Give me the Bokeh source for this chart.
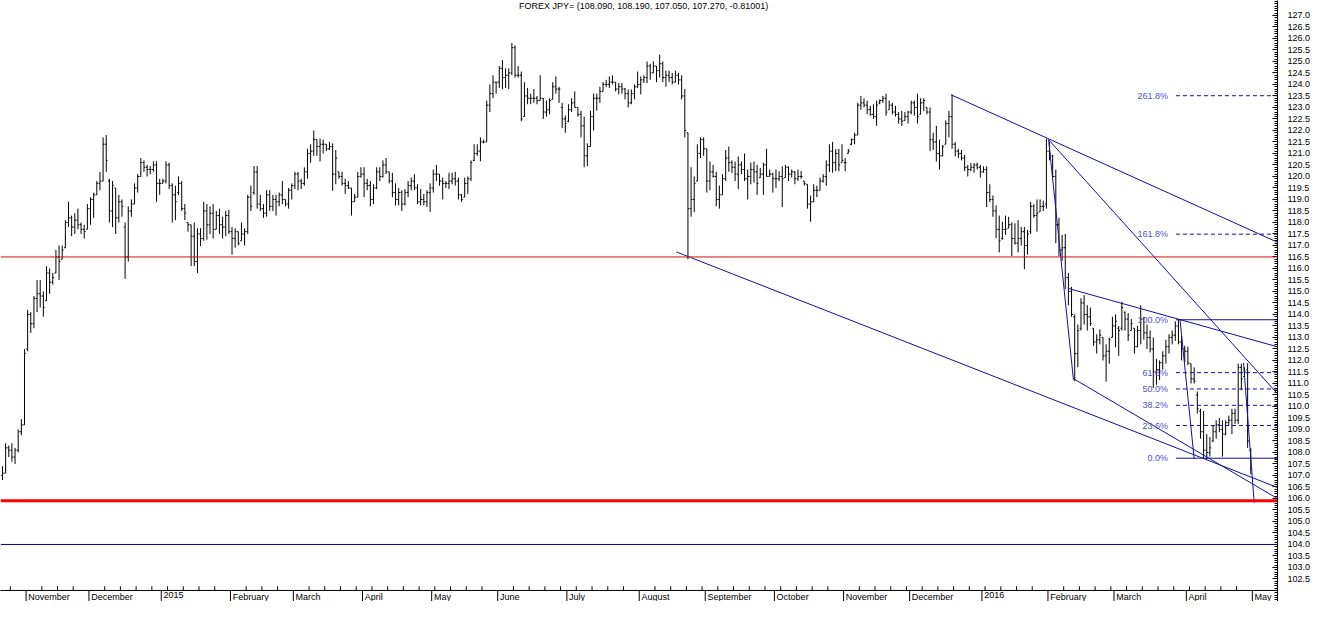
from bokeh.plotting import figure
from bokeh.models import ColumnDataSource, FixedTicker, PrintfTickFormatter, Range1d, Span
from bokeh.embed import file_html
from bokeh.resources import INLINE
from bokeh.core.properties import value

# ---------------- data: daily USD/JPY bars (trading-day index 0 = 22 Oct 2014) -------------
highs = [107.4, 108.4, 108.3, 108.4, 108.2, 109.0, 109.45, 112.5,
    114.2, 114.1, 114.8, 115.5, 115.5, 115.0, 116.1, 116.0, 115.8, 116.8, 117.0, 117.0, 118.1, 118.9, 118.3, 118.4, 118.6, 118.0, 117.9, 118.8,
    119.1, 119.3, 119.8, 120.2, 121.7, 121.8, 119.9, 119.8, 119.5, 119.2, 119.0, 118.0, 118.7, 119.0, 119.7, 120.1, 120.8, 120.7, 120.5, 120.45, 120.66, 120.66, 119.9,
    119.9, 120.66, 120.6, 119.7, 119.6, 120.0, 119.8, 118.8, 118.0, 117.9, 118.0, 117.75, 117.75, 118.9, 118.8, 118.7, 118.8, 118.5, 118.6, 118.25, 118.5, 118.55,
    117.8, 117.75, 117.6, 118.0, 117.75, 119.2, 119.6, 120.45, 120.45, 119.2, 118.8, 119.4, 119.4, 119.2, 119.2, 119.3, 119.8, 119.0, 119.5, 119.7,
    120.2, 120.2, 119.9, 120.4, 121.2, 121.4, 122.0, 121.6, 121.65, 121.6, 121.4, 121.5, 121.44, 121.15, 120.2, 120.2, 119.9, 119.8, 119.5, 119.24, 120.2, 120.4,
    120.4, 119.9, 119.8, 119.66, 120.4, 120.4, 120.7, 120.8, 120.2, 120.16, 119.7, 119.5, 119.4, 119.45, 119.8, 119.95, 120.1, 119.66, 119.45, 119.24, 119.4, 119.7,
    120.3, 120.5, 120.1, 119.95, 119.8, 120.16, 120.16, 120.2, 119.95, 119.24, 119.95, 120.0, 120.7, 121.4, 121.4, 121.7, 121.6, 123.3, 124.0, 124.4, 124.1,
    124.8, 125.06, 124.7, 124.7, 125.8, 125.7, 124.8, 124.56, 124.1, 123.85, 123.6, 123.8, 123.5, 124.4, 123.4, 123.3, 123.4, 124.1, 124.35, 123.9, 123.2, 122.65,
    123.14, 123.4, 123.7, 123.0, 122.86, 122.6, 121.44, 122.86, 123.6, 123.6, 123.9, 124.1, 124.2, 124.35, 124.4, 124.1, 124.06, 124.06, 123.85, 123.78, 123.78, 124.0, 124.56,
    124.35, 124.4, 125.0, 124.9, 125.0, 124.8, 125.3, 125.0, 124.6, 124.6, 124.5, 124.6, 124.5, 124.4, 123.8, 121.9, 120.4, 120.0, 121.4, 121.7, 121.7,
    121.2, 120.65, 120.5, 120.2, 119.6, 120.1, 121.15, 121.3, 120.7, 120.65, 120.87, 120.65, 121.0, 120.3, 120.6, 120.65, 120.5, 120.37, 120.6, 121.2, 120.3, 120.16,
    120.3, 120.23, 120.44, 120.5, 120.44, 120.3, 120.23, 120.3, 120.23, 119.8, 119.66, 119.17, 119.66, 119.6, 119.95, 120.1, 120.7, 121.4, 121.5, 121.2, 121.2, 121.4,
    120.8, 121.2, 121.65, 121.9, 123.2, 123.5, 123.4, 123.3, 123.07, 123.14, 123.3, 123.35, 123.5, 123.6, 123.3, 123.2, 123.07, 122.8, 122.85, 122.8, 122.85,
    123.3, 123.3, 123.6, 123.4, 123.4, 123.0, 123.0, 121.9, 122.2, 121.6, 121.36, 122.43, 122.85, 123.56, 121.5, 121.2, 121.15, 120.94, 120.5, 120.58, 120.58, 120.6, 120.5,
    120.44, 120.44, 119.66, 119.17, 118.74, 118.3, 118.03, 118.3, 118.25, 118.0, 117.96, 118.1, 117.8, 117.8, 117.68, 118.9, 118.8, 119.0, 119.0, 118.95, 121.65,
    121.5, 120.94, 120.3, 118.2, 117.46, 117.5, 115.8, 115.2, 114.0, 113.56, 114.7, 114.84, 114.4, 114.3, 113.4, 113.14, 113.35, 113.0, 112.7, 113.0, 113.9,
    114.0, 113.5, 114.55, 114.13, 114.06, 113.8, 113.4, 113.5, 114.4, 113.9, 113.56, 113.3, 113.0, 112.07, 112.0, 112.4, 112.9, 113.14, 113.3, 113.7, 113.8, 113.07, 112.64,
    112.6, 111.86, 111.7, 110.65, 109.9, 109.8, 108.8, 108.67, 109.17, 109.4, 109.5, 109.4, 109.4, 109.6, 109.9, 109.9, 111.86, 111.86, 111.7, 111.88, 108.19]
lows = [106.8, 107.1, 107.8, 107.6, 107.5, 108.0, 108.75, 109.2,
    112.4, 113.2, 113.4, 114.1, 114.3, 113.9, 114.6, 114.9, 115.3, 115.8, 115.5, 116.4, 116.9, 117.8, 117.4, 117.5, 117.7, 117.5, 117.3, 117.7,
    117.9, 118.2, 119.2, 119.4, 119.8, 120.2, 118.0, 117.8, 117.5, 118.0, 118.25, 115.55, 116.3, 118.25, 118.8, 119.3, 120.0, 120.2, 120.0, 120.1, 120.2, 118.9, 119.2,
    119.7, 119.7, 119.45, 118.0, 118.1, 119.2, 118.5, 118.1, 117.6, 116.1, 116.1, 115.8, 116.97, 117.2, 117.25, 117.5, 117.3, 117.7, 117.5, 117.3, 117.4, 117.5,
    116.6, 116.9, 117.0, 117.2, 117.0, 117.5, 118.5, 119.2, 118.6, 118.5, 118.2, 118.25, 118.5, 118.5, 118.3, 118.7, 118.8, 118.7, 118.6, 119.0,
    119.45, 119.4, 119.45, 119.6, 119.9, 120.6, 120.9, 120.9, 120.66, 121.0, 121.1, 121.15, 119.38, 119.66, 119.9, 119.6, 119.24, 119.45, 118.3, 118.9, 119.1, 119.95,
    119.1, 119.4, 118.7, 118.8, 119.45, 119.8, 119.95, 120.1, 119.7, 119.1, 118.74, 118.74, 118.5, 118.74, 119.1, 119.4, 119.4, 118.8, 118.74, 118.74, 118.67, 118.46,
    119.3, 119.8, 119.6, 119.0, 119.5, 119.45, 119.66, 119.6, 119.0, 118.9, 119.1, 119.24, 119.8, 120.66, 120.9, 120.66, 121.44, 121.5, 122.8, 123.4, 123.6,
    123.85, 123.8, 123.85, 123.8, 124.4, 124.3, 124.3, 122.4, 122.6, 123.14, 123.14, 123.2, 123.14, 123.3, 122.5, 122.6, 122.7, 123.35, 123.6, 123.2, 122.1, 121.9,
    122.36, 122.8, 123.0, 122.6, 121.7, 120.4, 120.45, 121.3, 122.0, 122.86, 123.2, 123.7, 123.9, 123.85, 124.0, 123.7, 123.57, 123.6, 123.35, 123.0, 123.14, 123.35, 123.85,
    123.57, 124.06, 124.06, 124.2, 124.5, 124.1, 124.3, 124.1, 123.9, 124.1, 124.0, 124.1, 124.0, 123.35, 121.7, 116.4, 118.25, 118.45, 119.8, 120.8, 120.9,
    119.3, 119.4, 119.95, 118.7, 118.6, 119.2, 119.8, 120.2, 120.16, 119.8, 119.45, 120.1, 119.8, 119.0, 119.66, 119.73, 119.2, 119.95, 119.2, 120.0, 120.0, 119.3,
    119.5, 119.8, 118.67, 119.95, 119.8, 119.95, 119.66, 119.8, 119.9, 119.6, 118.6, 118.03, 118.88, 119.1, 119.4, 119.73, 119.6, 120.2, 120.16, 120.23, 120.23, 120.6,
    120.23, 121.0, 121.36, 121.4, 121.8, 122.9, 123.0, 122.7, 122.64, 122.5, 122.2, 123.14, 123.2, 122.64, 122.9, 122.7, 122.6, 122.3, 122.2, 122.43, 122.3,
    122.7, 122.64, 122.3, 122.7, 122.85, 122.7, 121.1, 121.15, 120.65, 120.3, 120.87, 121.4, 121.7, 121.2, 120.87, 120.8, 120.7, 120.23, 120.0, 120.23, 120.16, 120.3, 119.95,
    120.16, 118.67, 118.88, 118.25, 117.32, 116.7, 117.25, 117.46, 117.75, 116.54, 117.04, 116.7, 117.0, 115.97, 116.6, 117.5, 118.2, 117.6, 118.46, 118.5, 118.6,
    120.7, 119.95, 117.1, 116.54, 116.33, 115.1, 114.4, 113.9, 111.1, 111.7, 113.3, 113.56, 113.3, 113.5, 112.64, 112.3, 112.7, 112.0, 111.08, 111.86, 113.0,
    112.57, 112.2, 113.3, 113.3, 112.85, 113.3, 112.3, 112.57, 112.7, 112.9, 112.5, 112.35, 110.8, 110.94, 111.15, 111.6, 111.86, 112.3, 112.7, 112.85, 112.7, 112.0, 111.93,
    111.8, 111.0, 111.0, 109.7, 108.6, 107.75, 107.7, 107.82, 108.46, 108.6, 108.88, 107.82, 108.74, 109.17, 108.8, 109.24, 109.24, 110.7, 111.3, 108.2, 107.05]
opens = [107.0, 107.1, 108.2, 108.1, 107.8, 108.1, 108.9, 109.2,
    112.5, 114.0, 113.6, 114.7, 114.9, 114.8, 114.6, 115.8, 115.4, 115.8, 116.5, 116.4, 116.9, 118.0, 118.2, 117.8, 118.1, 117.9, 117.7, 117.7,
    118.6, 119.0, 119.2, 119.7, 119.8, 121.4, 119.8, 118.5, 119.5, 118.2, 118.9, 117.8, 116.5, 118.5, 118.8, 119.5, 120.0, 120.6, 120.4, 120.3, 120.3, 120.5, 119.7,
    119.7, 119.8, 120.5, 119.6, 119.2, 119.3, 119.7, 118.6, 118.0, 117.9, 117.4, 116.3, 117.5, 117.3, 118.5, 117.9, 118.4, 117.7, 118.3, 117.9, 117.8, 118.3,
    117.6, 117.3, 117.6, 117.2, 117.5, 117.6, 119.1, 119.3, 120.2, 118.8, 118.6, 118.4, 119.2, 118.7, 119.0, 118.9, 119.2, 119.0, 118.8, 119.4,
    119.6, 120.1, 119.8, 119.7, 120.2, 121.0, 121.1, 121.6, 121.3, 121.4, 121.4, 121.2, 121.3, 120.1, 120.2, 120.0, 119.7, 119.6, 119.5, 118.9, 119.1, 120.0,
    120.1, 119.7, 119.6, 119.0, 119.5, 120.2, 120.0, 120.5, 120.2, 119.8, 119.3, 119.0, 119.3, 118.8, 119.3, 119.6, 119.8, 119.5, 118.9, 119.0, 118.9, 119.3,
    119.5, 120.1, 120.1, 119.8, 119.7, 119.7, 119.8, 119.9, 119.8, 119.2, 119.1, 119.7, 119.9, 120.7, 121.0, 121.1, 121.5, 121.5, 123.1, 123.6, 124.1,
    124.1, 124.7, 124.3, 124.4, 124.5, 125.6, 124.4, 124.4, 122.6, 123.5, 123.4, 123.4, 123.4, 123.3, 123.4, 122.8, 122.9, 123.35, 123.9, 123.8, 123.0, 122.5,
    122.4, 122.9, 123.2, 123.0, 122.7, 122.2, 120.9, 121.3, 122.6, 123.4, 123.4, 123.7, 124.0, 124.0, 124.1, 124.1, 123.8, 123.9, 123.8, 123.6, 123.2, 123.6, 123.9,
    124.0, 124.2, 124.3, 124.8, 124.5, 124.8, 124.6, 124.9, 124.3, 124.4, 124.3, 124.1, 124.4, 124.2, 123.5, 121.9, 118.6, 119.0, 119.8, 121.0, 121.6,
    121.2, 119.8, 120.2, 120.0, 119.0, 119.2, 119.9, 120.8, 120.6, 120.4, 120.1, 120.5, 120.3, 119.9, 120.0, 120.3, 120.2, 119.95, 120.1, 120.5, 120.0, 120.1,
    119.9, 119.9, 120.0, 119.95, 120.4, 120.1, 120.2, 119.9, 120.0, 119.8, 119.66, 118.8, 118.9, 119.4, 119.4, 119.8, 120.0, 120.5, 121.1, 120.6, 121.0, 120.6,
    120.6, 121.0, 121.4, 121.6, 121.8, 123.1, 123.2, 123.1, 122.9, 122.7, 122.6, 123.2, 123.3, 123.4, 122.9, 123.1, 122.8, 122.7, 122.5, 122.43, 122.6,
    122.8, 123.2, 123.0, 122.7, 123.2, 123.0, 122.8, 121.6, 121.5, 121.0, 120.9, 121.4, 122.3, 122.6, 121.4, 121.1, 121.0, 120.8, 120.4, 120.3, 120.4, 120.5, 120.4,
    120.2, 120.3, 119.3, 119.0, 118.5, 117.7, 117.3, 117.7, 117.75, 117.9, 117.3, 117.1, 117.3, 117.6, 117.0, 117.6, 118.7, 118.3, 118.46, 118.7, 118.8,
    121.1, 120.9, 120.0, 117.9, 116.8, 116.9, 115.6, 115.0, 113.9, 112.3, 113.4, 114.5, 114.0, 113.9, 113.4, 112.8, 112.9, 113.0, 112.2, 112.4, 113.0,
    113.5, 113.4, 113.4, 114.1, 113.8, 113.3, 113.4, 112.6, 113.3, 113.8, 113.2, 113.0, 112.5, 111.5, 111.6, 111.9, 112.2, 112.6, 113.0, 113.1, 113.5, 112.8, 112.5,
    112.4, 111.86, 111.2, 110.5, 109.8, 108.9, 108.1, 108.0, 108.5, 108.9, 109.2, 109.0, 108.8, 109.3, 109.4, 109.7, 109.4, 111.7, 111.3, 111.6, 108.09]
closes = [107.1, 108.2, 108.1, 107.8, 108.1, 108.9, 109.2, 112.3,
    114.0, 113.6, 114.7, 114.9, 114.8, 114.3, 115.8, 115.4, 115.6, 116.5, 116.3, 116.8, 118.0, 118.2, 117.8, 118.1, 117.9, 117.7, 117.6, 118.6,
    119.0, 119.2, 119.7, 119.8, 121.4, 120.7, 118.5, 119.6, 118.2, 118.9, 118.7, 116.5, 118.5, 118.8, 119.5, 120.0, 120.6, 120.4, 120.3, 120.3, 120.5, 119.7, 119.7,
    119.8, 120.5, 119.6, 119.2, 118.9, 119.7, 118.6, 118.4, 117.9, 117.4, 116.3, 117.5, 117.3, 118.5, 117.9, 118.4, 117.7, 118.3, 117.9, 117.8, 118.3, 117.6,
    117.3, 117.6, 117.1, 117.5, 117.6, 119.1, 118.7, 120.2, 118.8, 118.6, 118.4, 119.2, 118.7, 119.0, 118.9, 119.2, 119.0, 118.8, 119.4, 119.6,
    120.1, 119.8, 119.7, 120.2, 121.0, 121.1, 121.6, 121.3, 121.4, 121.4, 121.2, 121.3, 120.1, 120.8, 120.0, 119.7, 119.6, 119.5, 118.9, 119.1, 120.0, 120.1,
    119.7, 119.6, 119.0, 119.5, 120.2, 120.0, 120.5, 120.2, 119.8, 119.3, 119.0, 119.3, 118.8, 119.3, 119.6, 119.8, 119.5, 118.9, 119.0, 118.9, 119.3, 119.5,
    120.1, 120.1, 119.8, 119.7, 119.7, 119.8, 119.9, 119.8, 119.2, 119.0, 119.7, 119.9, 120.6, 121.0, 121.1, 121.5, 121.5, 123.1, 123.6, 124.1, 124.1,
    124.7, 124.3, 124.4, 124.5, 125.6, 124.4, 124.4, 122.5, 123.5, 123.4, 123.4, 123.4, 123.3, 123.4, 122.8, 122.9, 123.3, 123.9, 123.8, 123.8, 122.5, 122.3,
    122.9, 123.2, 123.0, 122.7, 122.2, 120.9, 121.3, 122.6, 123.4, 123.4, 123.7, 124.0, 124.0, 124.1, 124.1, 123.8, 123.9, 123.8, 123.6, 123.2, 123.6, 123.9, 124.0,
    124.2, 124.3, 124.8, 124.5, 124.8, 124.6, 124.9, 124.3, 124.4, 124.3, 124.1, 124.4, 124.2, 123.5, 122.0, 118.6, 119.0, 119.7, 121.0, 121.6, 121.2,
    119.8, 120.2, 120.0, 119.0, 119.2, 119.9, 120.8, 120.6, 120.4, 120.1, 120.5, 120.3, 119.9, 120.0, 120.3, 120.2, 119.7, 120.1, 120.5, 120.0, 120.1, 119.9,
    119.9, 120.0, 119.9, 120.4, 120.1, 120.2, 119.9, 120.0, 120.0, 119.7, 118.8, 118.9, 119.4, 119.4, 119.8, 120.0, 120.5, 121.1, 120.6, 121.0, 120.5, 120.7,
    120.6, 121.1, 121.6, 121.8, 123.1, 123.2, 123.1, 122.9, 122.7, 122.6, 123.1, 123.3, 123.4, 122.8, 123.1, 122.8, 122.7, 122.5, 122.4, 122.6, 122.8,
    123.2, 123.0, 122.6, 123.2, 123.3, 122.8, 121.6, 121.5, 121.0, 120.9, 121.3, 122.3, 122.6, 121.4, 121.1, 121.0, 120.8, 120.4, 120.3, 120.4, 120.5, 120.4, 120.2,
    120.3, 119.3, 119.0, 118.5, 117.7, 117.2, 117.7, 117.7, 117.9, 117.3, 117.1, 117.3, 117.6, 117.0, 117.5, 118.7, 118.3, 118.4, 118.7, 118.7, 121.1,
    121.0, 120.0, 117.9, 116.8, 116.9, 115.6, 115.0, 114.0, 112.3, 113.3, 114.5, 114.0, 113.9, 113.6, 112.8, 112.9, 113.1, 112.2, 112.4, 112.9, 113.5,
    113.7, 113.3, 114.3, 113.8, 113.1, 113.6, 112.6, 113.3, 113.8, 113.2, 113.0, 112.5, 111.5, 111.6, 111.9, 112.2, 112.6, 113.0, 113.1, 113.5, 112.8, 112.5, 112.4,
    111.9, 111.2, 111.1, 109.9, 108.9, 108.1, 108.0, 108.2, 108.9, 109.2, 109.0, 108.8, 109.3, 109.4, 109.7, 109.4, 111.7, 111.2, 111.5, 108.5, 107.27]
last_change = -0.81001

# month axis: first bar index of every month and its label
month_first_bar = [8, 28, 51, 73, 93, 115, 137, 158, 180, 203, 224, 246, 268, 289, 312, 333, 354, 377, 398]
month_labels = ["November", "December", "2015", "February", "March", "April", "May", "June", "July",
                "August", "September", "October", "November", "December", "2016", "February", "March", "April", "May"]

# price axis ticks
y_major = [round(102.5 + 0.5 * k, 1) for k in range(50)]
y_minor = [round(101.5 + 0.1 * k, 1) for k in range(262)]

# analyst drawings (trading-day index, price)
level_red_thin = 116.5
level_red_thick = 105.9
level_navy = 104.0
fib_low, fib_high = 107.75, 113.77
fib_ratios = [0.0, 0.236, 0.382, 0.5, 0.618, 1.0, 1.618, 2.618]
fib_start = 373.2
trend_x0 = [214.3, 340.6, 301.7, 339.0, 332.7, 332.7, 374.5, 394.7]
trend_y0 = [116.72, 111.21, 123.55, 115.13, 121.60, 121.60, 113.77, 111.89]
trend_x1 = [408.4, 405.2, 408.4, 406.1, 408.4, 340.6, 379.0, 398.1]
trend_y1 = [106.32, 106.02, 116.96, 112.57, 110.11, 111.17, 107.72, 105.81]

# ---------------- figure ----------------
FONT = "Liberation Sans"
XMIN, XMAX = -0.63, 405.5
YMIN, YMAX = 101.52, 127.65
AXIS_Y = 102.0

p = figure(width=1313, height=601, output_backend="svg", toolbar_location=None,
           x_range=Range1d(XMIN, XMAX), y_range=Range1d(YMIN, YMAX),
           x_axis_location=None, y_axis_location="right",
           min_border_left=0, min_border_right=0, min_border_top=0, min_border_bottom=0)
p.outline_line_color = None
p.xgrid.visible = False
p.ygrid.visible = False
p.background_fill_color = "white"
p.border_fill_color = "white"

ax = p.yaxis[0]
ax.ticker = FixedTicker(ticks=y_major, minor_ticks=y_minor)
ax.formatter = PrintfTickFormatter(format="%.1f")
ax.major_tick_in = 5
ax.major_tick_out = 0
ax.minor_tick_in = 3
ax.minor_tick_out = 0
ax.major_label_standoff = 10
ax.major_label_text_font = FONT
ax.major_label_text_font_size = "9px"
ax.major_label_text_color = "black"
ax.axis_line_color = "black"
ax.major_tick_line_color = "black"
ax.minor_tick_line_color = "black"

# horizontal support levels
p.add_layout(Span(location=level_red_thin, dimension="width", line_color="#d01010", line_width=1))
p.add_layout(Span(location=level_red_thick, dimension="width", line_color="#ff0000", line_width=3))
p.add_layout(Span(location=level_navy, dimension="width", line_color="#000080", line_width=1))

# price bars
idx = list(range(len(highs)))
src = ColumnDataSource(dict(x=idx, xl=[i - 0.42 for i in idx], xr=[i + 0.42 for i in idx],
                            h=highs, l=lows, o=opens, c=closes))
p.segment(x0="x", y0="l", x1="x", y1="h", source=src, line_color="black", line_width=1)
p.segment(x0="xl", y0="o", x1="x", y1="o", source=src, line_color="black", line_width=1)
p.segment(x0="x", y0="c", x1="xr", y1="c", source=src, line_color="black", line_width=1)

# trend lines
p.segment(x0=trend_x0, y0=trend_y0, x1=trend_x1, y1=trend_y1, line_color="#10109a", line_width=1)

# fibonacci levels
fib_levels = [fib_low + r * (fib_high - fib_low) for r in fib_ratios]
solid = [lv for r, lv in zip(fib_ratios, fib_levels) if r in (0.0, 1.0)]
dashed = [lv for r, lv in zip(fib_ratios, fib_levels) if r not in (0.0, 1.0)]
p.segment(x0=[fib_start] * len(solid), y0=solid, x1=[XMAX + 2] * len(solid), y1=solid,
          line_color="#10109a", line_width=1)
p.segment(x0=[fib_start] * len(dashed), y0=dashed, x1=[XMAX + 2] * len(dashed), y1=dashed,
          line_color="#10109a", line_width=1, line_dash="4 3")
p.text(x=[fib_start - 2.5] * len(fib_levels), y=fib_levels,
       text=["%.1f%%" % (r * 100) for r in fib_ratios],
       text_align="right", text_baseline="middle", text_color="#5050c8",
       text_font=value(FONT), text_font_size="9px")

# bottom time axis (drawn inside the frame)
p.segment(x0=[XMIN - 1], y0=[AXIS_Y], x1=[XMAX + 1], y1=[AXIS_Y], line_color="black", line_width=1)
month_ticks = [m - 0.5 for m in month_first_bar]
p.segment(x0=month_ticks, y0=[AXIS_Y] * len(month_ticks), x1=month_ticks, y1=[YMIN - 1] * len(month_ticks),
          line_color="black", line_width=1)
week_ticks = [i - 0.5 for i in range(3, 400, 5) if i not in month_first_bar]
p.segment(x0=week_ticks, y0=[AXIS_Y] * len(week_ticks), x1=week_ticks, y1=[AXIS_Y + 0.18] * len(week_ticks),
          line_color="black", line_width=1)
p.text(x=[t + 0.7 for t in month_ticks], y=[AXIS_Y - 0.05] * len(month_ticks), text=month_labels,
       text_align="left", text_baseline="top", text_color="black",
       text_font=value(FONT), text_font_size="9px")

# title
title = "FOREX JPY= (%.3f, %.3f, %.3f, %.3f, %.5f)" % (opens[-1], highs[-1], lows[-1], closes[-1], last_change)
p.text(x=[203.9], y=[YMAX - 0.26], text=[title], text_align="center", text_baseline="middle",
       text_color="black", text_font=value(FONT), text_font_size="9px")

open("out.html", "w").write(file_html(p, INLINE))
